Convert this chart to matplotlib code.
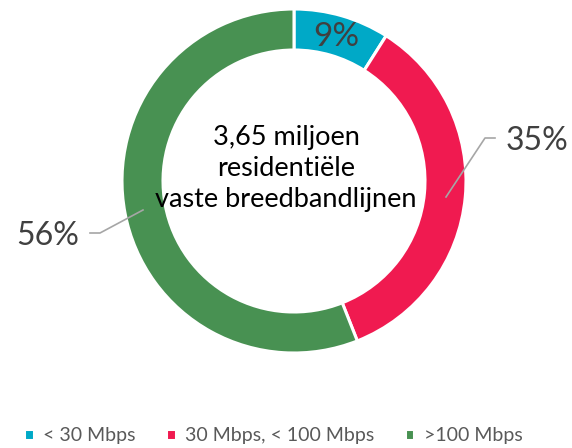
import matplotlib.pyplot as plt

# share of residential fixed broadband lines by speed class
categories = ["< 30 Mbps", "30 Mbps, < 100 Mbps", ">100 Mbps"]
shares = [9, 35, 56]
colors = ["#00A9C7", "#F01A50", "#489152"]
center_text = "3,65 miljoen\nresidentiële\nvaste breedbandlijnen"

plt.rcParams['font.family'] = ['Lato', 'DejaVu Sans']

W, H = 572, 448
fig = plt.figure(figsize=(W / 100, H / 100), dpi=100)
ax = fig.add_axes([0, 0, 1, 1])

cx, cy, r = 294, H - 181, 172
wedges, _ = ax.pie(shares, colors=colors, startangle=90, counterclock=False,
                   center=(cx, cy), radius=r, frame=True,
                   wedgeprops=dict(width=41, edgecolor='white', linewidth=2.2))
ax.set_xlim(0, W)
ax.set_ylim(0, H)
ax.set_aspect('equal')
ax.axis('off')

label_color = "#404040"
line_color = "#A6A6A6"

# 9% sits inside the ring
ax.text(336, H - 37, f"{shares[0]}%", ha='center', va='center',
        fontsize=24, color=label_color)

# 35% with leader line
ax.plot([446, 485, 495], [H - 197, H - 138, H - 138], color=line_color, lw=1.2)
ax.text(537, H - 141, f"{shares[1]}%", ha='center', va='center',
        fontsize=23, color=label_color)

# 56% with leader line
ax.plot([143, 100, 90], [H - 210, H - 233, H - 233], color=line_color, lw=1.2)
ax.text(48, H - 236, f"{shares[2]}%", ha='center', va='center',
        fontsize=23, color=label_color)

ax.text(286, H - 168, center_text, ha='center', va='center',
        fontsize=19.5, color='black', linespacing=1.3)

leg = ax.legend(wedges, categories, loc='center', bbox_to_anchor=(0.478, 1 - 436 / H),
                ncol=3, frameon=False, fontsize=14, handlelength=0.5,
                handleheight=0.5, handletextpad=0.5, columnspacing=1.55)
for t in leg.get_texts():
    t.set_color("#595959")

fig.savefig("out.png", dpi=100)
